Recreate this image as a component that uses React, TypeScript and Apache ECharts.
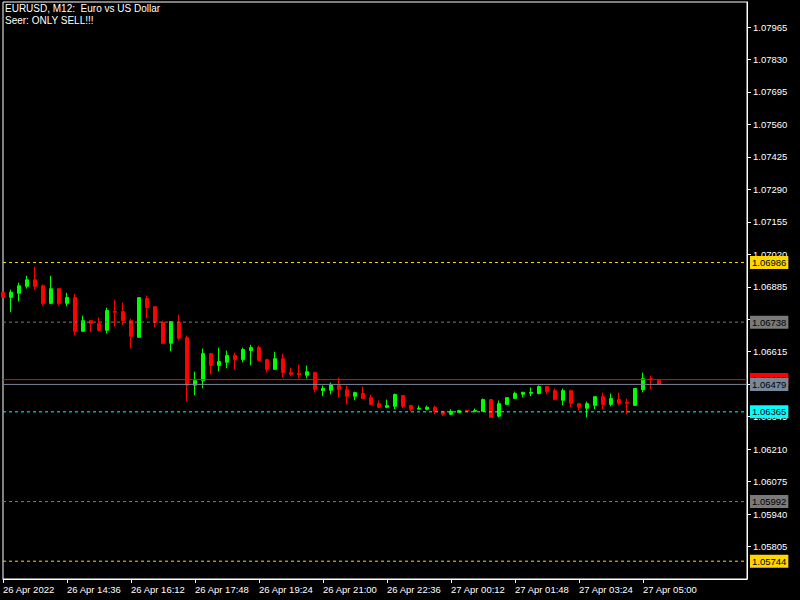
import React, { useEffect, useRef } from "react";
import * as echarts from "echarts";

// ---- Data ----
const opens = [
  1.06862, 1.06841, 1.06858, 1.06887, 1.06914, 1.06889, 1.06816, 1.06877, 1.06816, 1.06840,
  1.06700, 1.06744, 1.06732, 1.06704, 1.06782, 1.06782, 1.06744, 1.06675, 1.06836, 1.06802,
  1.06737, 1.06650, 1.06737, 1.06673, 1.06476, 1.06494, 1.06607, 1.06558, 1.06571, 1.06599,
  1.06583, 1.06620, 1.06632, 1.06582, 1.06542, 1.06586, 1.06528, 1.06525, 1.06517, 1.06528,
  1.06453, 1.06455, 1.06474, 1.06457, 1.06430, 1.06441, 1.06424, 1.06399, 1.06384, 1.06388,
  1.06433, 1.06391, 1.06376, 1.06376, 1.06384, 1.06367, 1.06355, 1.06363, 1.06371, 1.06367,
  1.06367, 1.06416, 1.06347, 1.06396, 1.06421, 1.06438, 1.06442, 1.06441, 1.06470, 1.06453,
  1.06413, 1.06453, 1.06399, 1.06380, 1.06392, 1.06428, 1.06396, 1.06416, 1.06405, 1.06392,
  1.06457, 1.06503, 1.06495,
];
const closes = [
  1.06841, 1.06862, 1.06889, 1.06914, 1.06887, 1.06816, 1.06877, 1.06816, 1.06840, 1.06700,
  1.06744, 1.06733, 1.06704, 1.06786, 1.06779, 1.06745, 1.06679, 1.06840, 1.06799, 1.06737,
  1.06650, 1.06740, 1.06671, 1.06476, 1.06495, 1.06607, 1.06558, 1.06574, 1.06599, 1.06583,
  1.06624, 1.06632, 1.06579, 1.06542, 1.06586, 1.06529, 1.06521, 1.06519, 1.06532, 1.06459,
  1.06462, 1.06477, 1.06459, 1.06430, 1.06445, 1.06421, 1.06396, 1.06384, 1.06391, 1.06437,
  1.06388, 1.06376, 1.06380, 1.06384, 1.06367, 1.06355, 1.06367, 1.06370, 1.06367, 1.06371,
  1.06416, 1.06342, 1.06399, 1.06424, 1.06441, 1.06446, 1.06446, 1.06470, 1.06450, 1.06417,
  1.06453, 1.06401, 1.06384, 1.06399, 1.06428, 1.06396, 1.06420, 1.06401, 1.06401, 1.06462,
  1.06503, 1.06499, 1.06479,
];
const lows = [
  1.06840, 1.06779, 1.06824, 1.06878, 1.06874, 1.06808, 1.06812, 1.06808, 1.06804, 1.06683,
  1.06700, 1.06696, 1.06700, 1.06691, 1.06720, 1.06725, 1.06629, 1.06675, 1.06754, 1.06716,
  1.06646, 1.06617, 1.06662, 1.06409, 1.06434, 1.06463, 1.06521, 1.06533, 1.06546, 1.06542,
  1.06571, 1.06558, 1.06579, 1.06529, 1.06542, 1.06509, 1.06513, 1.06504, 1.06504, 1.06446,
  1.06430, 1.06438, 1.06425, 1.06396, 1.06413, 1.06421, 1.06396, 1.06380, 1.06380, 1.06376,
  1.06380, 1.06367, 1.06376, 1.06371, 1.06355, 1.06347, 1.06351, 1.06363, 1.06366, 1.06363,
  1.06367, 1.06342, 1.06342, 1.06396, 1.06421, 1.06425, 1.06430, 1.06438, 1.06438, 1.06413,
  1.06392, 1.06384, 1.06371, 1.06342, 1.06376, 1.06376, 1.06388, 1.06392, 1.06355, 1.06392,
  1.06446, 1.06459, 1.06479,
];
const highs = [
  1.06865, 1.06873, 1.06902, 1.06931, 1.06968, 1.06894, 1.06931, 1.06877, 1.06860, 1.06856,
  1.06765, 1.06748, 1.06757, 1.06798, 1.06831, 1.06819, 1.06752, 1.06840, 1.06848, 1.06802,
  1.06744, 1.06740, 1.06769, 1.06682, 1.06532, 1.06628, 1.06607, 1.06632, 1.06620, 1.06611,
  1.06632, 1.06644, 1.06640, 1.06586, 1.06615, 1.06607, 1.06549, 1.06561, 1.06557, 1.06532,
  1.06474, 1.06487, 1.06507, 1.06474, 1.06449, 1.06470, 1.06437, 1.06412, 1.06416, 1.06441,
  1.06433, 1.06391, 1.06391, 1.06391, 1.06391, 1.06367, 1.06376, 1.06370, 1.06374, 1.06379,
  1.06420, 1.06416, 1.06412, 1.06424, 1.06449, 1.06449, 1.06466, 1.06475, 1.06470, 1.06462,
  1.06462, 1.06457, 1.06399, 1.06408, 1.06428, 1.06445, 1.06441, 1.06445, 1.06420, 1.06462,
  1.06528, 1.06516, 1.06495,
];

const tickLabels = [
  "26 Apr 2022", "26 Apr 14:36", "26 Apr 16:12", "26 Apr 17:48", "26 Apr 19:24", "26 Apr 21:00",
  "26 Apr 22:36", "27 Apr 00:12", "27 Apr 01:48", "27 Apr 03:24", "27 Apr 05:00",
];

const levelValues = [1.06986, 1.06738, 1.06499, 1.06479, 1.06365, 1.05992, 1.05744];
const levelColors = ["#ffd700", "#7a7a7a", "#ff0000", "#778899", "#00ffff", "#7a7a7a", "#ffd700"];
const levelDashed = [true, true, false, false, true, true, true];

const titleLines = ["EURUSD, M12:  Euro vs US Dollar", "Seer: ONLY SELL!!!"];

const TOTAL_SLOTS = 94;
const BARS_PER_TICK = 8;
const Y_MIN = 1.0567;
const Y_MAX = 1.08069;
const Y_STEP = 0.00135;

const FONT = '"Liberation Sans", Arial, sans-serif';

export default function App() {
  const ref = useRef<HTMLDivElement>(null);

  useEffect(() => {
    if (!ref.current) return;
    const chart = echarts.init(ref.current, undefined, { renderer: "svg" });

    const categories: string[] = [];
    for (let i = 0; i < TOTAL_SLOTS; i++) categories.push(String(i));

    const data = opens.map((o, i) => [o, closes[i], lows[i], highs[i]]);

    const tickShown = (index: number) =>
      index % BARS_PER_TICK === 0 && index / BARS_PER_TICK < tickLabels.length;

    const levelSeries = levelValues.map((v, i) => ({
      type: "line",
      name: "level" + i,
      data: [
        [0, v],
        [TOTAL_SLOTS - 1, v],
      ],
      symbol: "none",
      silent: true,
      z: 3 + i,
      lineStyle: {
        color: levelColors[i],
        width: 1,
        type: levelDashed[i] ? [3, 3] : "solid",
      },
      endLabel: {
        show: true,
        distance: 3,
        formatter: () => v.toFixed(5),
        color: "#000",
        backgroundColor: levelColors[i],
        padding: [2, 2, 1, 2],
        fontSize: 9.5,
        fontFamily: FONT,
      },
    }));

    chart.setOption({
      animation: false,
      backgroundColor: "#000",
      grid: {
        left: 2,
        top: 2,
        right: 53,
        bottom: 21,
        show: true,
        borderColor: "#fff",
        borderWidth: 1,
      },
      graphic: titleLines.map((t, i) => ({
        type: "text",
        left: 5,
        top: 3 + i * 12,
        style: { text: t, fill: "#fff", font: `10px ${FONT}` },
      })),
      xAxis: {
        type: "category",
        data: categories,
        boundaryGap: false,
        axisLine: { show: true, lineStyle: { color: "#fff", width: 1 } },
        axisTick: {
          show: true,
          length: 4,
          interval: (index: number) => tickShown(index),
          lineStyle: { color: "#fff" },
        },
        axisLabel: {
          interval: (index: number) => tickShown(index),
          formatter: (_v: string, index: number) =>
            tickShown(index) ? tickLabels[index / BARS_PER_TICK] : "",
          color: "#fff",
          fontSize: 9.5,
          fontFamily: FONT,
          align: "left",
          margin: 5,
        },
        splitLine: { show: false },
      },
      yAxis: {
        type: "value",
        position: "right",
        min: Y_MIN,
        max: Y_MAX,
        interval: Y_STEP,
        axisLine: { show: true, lineStyle: { color: "#fff" } },
        axisTick: { show: true, length: 4, lineStyle: { color: "#fff" } },
        axisLabel: {
          color: "#fff",
          fontSize: 9.5,
          fontFamily: FONT,
          margin: 6,
          showMinLabel: false,
          showMaxLabel: false,
          formatter: (v: number) => v.toFixed(5),
        },
        splitLine: { show: false },
      },
      series: [
        {
          type: "candlestick",
          data,
          barWidth: 4,
          clip: true,
          z: 2,
          itemStyle: {
            color: "#00ff00",
            color0: "#ff0000",
            borderColor: "#00ff00",
            borderColor0: "#ff0000",
            borderWidth: 1,
          },
        },
        ...levelSeries,
      ],
    });

    return () => chart.dispose();
  }, []);

  return (
    <div
      ref={ref}
      style={{ position: "fixed", left: 0, top: 0, width: 800, height: 600 }}
    />
  );
}
